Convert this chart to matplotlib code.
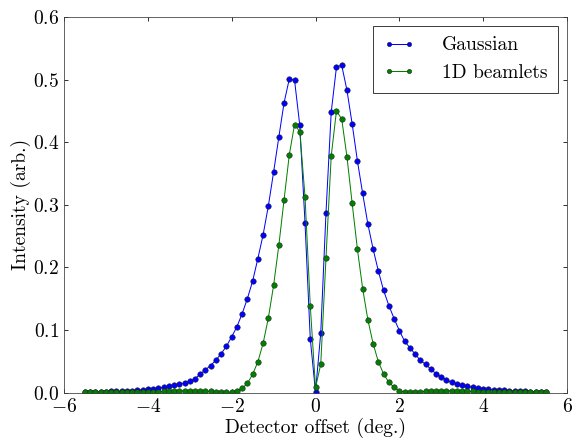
import numpy as np
import matplotlib
matplotlib.use("Agg")
import matplotlib.pyplot as plt

# detector offsets (deg.), one sample every 0.125 deg
offset = [-5.5, -5.375, -5.25, -5.125, -5.0, -4.875, -4.75, -4.625, -4.5, -4.375,
          -4.25, -4.125, -4.0, -3.875, -3.75, -3.625, -3.5, -3.375, -3.25, -3.125,
          -3.0, -2.875, -2.75, -2.625, -2.5, -2.375, -2.25, -2.125, -2.0, -1.875,
          -1.75, -1.625, -1.5, -1.375, -1.25, -1.125, -1.0, -0.875, -0.75, -0.625,
          -0.5, -0.375, -0.25, -0.125, 0.0, 0.125, 0.25, 0.375, 0.5, 0.625,
          0.75, 0.875, 1.0, 1.125, 1.25, 1.375, 1.5, 1.625, 1.75, 1.875,
          2.0, 2.125, 2.25, 2.375, 2.5, 2.625, 2.75, 2.875, 3.0, 3.125,
          3.25, 3.375, 3.5, 3.625, 3.75, 3.875, 4.0, 4.125, 4.25, 4.375,
          4.5, 4.625, 4.75, 4.875, 5.0, 5.125, 5.25, 5.375, 5.5]

gaussian = [0.0008, 0.0009, 0.0010, 0.0012, 0.0014, 0.0017, 0.0020, 0.0023, 0.0027, 0.0031,
            0.0037, 0.0044, 0.0052, 0.0060, 0.0070, 0.0081, 0.0097, 0.0113, 0.0131, 0.0155,
            0.0183, 0.0220, 0.0295, 0.0365, 0.0430, 0.0520, 0.0620, 0.0740, 0.0890, 0.1050,
            0.1260, 0.1500, 0.1780, 0.2140, 0.2520, 0.2980, 0.3520, 0.4080, 0.4630, 0.5010,
            0.4990, 0.4270, 0.2710, 0.0860, 0.0010, 0.0950, 0.2870, 0.4480, 0.5200, 0.5230,
            0.4830, 0.4290, 0.3700, 0.3180, 0.2690, 0.2290, 0.1940, 0.1630, 0.1390, 0.1180,
            0.0990, 0.0820, 0.0716, 0.0615, 0.0514, 0.0450, 0.0375, 0.0300, 0.0250, 0.0200,
            0.0163, 0.0136, 0.0115, 0.0098, 0.0084, 0.0072, 0.0062, 0.0053, 0.0045, 0.0039,
            0.0033, 0.0028, 0.0024, 0.0020, 0.0017, 0.0014, 0.0012, 0.0010, 0.0009]

beamlets = [0.0001, 0.0001, 0.0001, 0.0001, 0.0002, 0.0002, 0.0002, 0.0003, 0.0003, 0.0004,
            0.0005, 0.0006, 0.0007, 0.0009, 0.0012, 0.0016, 0.0020, 0.0024, 0.0027, 0.0029,
            0.0030, 0.0029, 0.0026, 0.0021, 0.0016, 0.0010, 0.0005, 0.0002, 0.0006, 0.0030,
            0.0067, 0.0146, 0.0290, 0.0490, 0.0785, 0.1190, 0.1710, 0.2350, 0.3080, 0.3800,
            0.4280, 0.4170, 0.3130, 0.1390, 0.0080, 0.0450, 0.2150, 0.3780, 0.4500, 0.4370,
            0.3770, 0.3020, 0.2290, 0.1660, 0.1160, 0.0780, 0.0490, 0.0296, 0.0163, 0.0083,
            0.0030, 0.0008, 0.0003, 0.0008, 0.0014, 0.0020, 0.0025, 0.0028, 0.0030, 0.0030,
            0.0029, 0.0027, 0.0024, 0.0020, 0.0016, 0.0012, 0.0009, 0.0006, 0.0004, 0.0003,
            0.0002, 0.0002, 0.0001, 0.0001, 0.0001, 0.0001, 0.0001, 0.0001, 0.0001]

# old-style LaTeX look
plt.rcParams['font.family'] = 'serif'
plt.rcParams['font.serif'] = ['cmr10']
plt.rcParams['mathtext.fontset'] = 'cm'
plt.rcParams['axes.formatter.use_mathtext'] = True
plt.rcParams['axes.unicode_minus'] = True

fs = 19.5

fig = plt.figure(figsize=(572 / 72, 443 / 72), dpi=72)
ax = fig.add_axes([64 / 572, (443 - 392.5) / 443, 503 / 572, (392.5 - 17) / 443])

ax.plot(offset, gaussian, 'o-', color='#0000ff', lw=1, ms=5.5, mec='#202020', mew=0.5, label='Gaussian')
ax.plot(offset, beamlets, 'o-', color='#008000', lw=1, ms=5.5, mec='#202020', mew=0.5, label='1D beamlets')

ax.set_xlim(-6, 6)
ax.set_ylim(0, 0.6)
ax.set_xticks([-6, -4, -2, 0, 2, 4, 6])
ax.set_yticks([0.0, 0.1, 0.2, 0.3, 0.4, 0.5, 0.6])
ax.tick_params(direction='in', top=True, right=True, length=4, labelsize=fs, pad=5)
for s in ax.spines.values():
    s.set_color('#404040')
ax.set_xlabel('Detector offset (deg.)', fontsize=fs, labelpad=2)
ax.set_ylabel('Intensity (arb.)', fontsize=fs, labelpad=2)

leg = ax.legend(loc='upper right', numpoints=2, fontsize=fs, fancybox=False, framealpha=1,
                handlelength=1.6, handletextpad=1.4, borderpad=0.55, borderaxespad=0.45,
                markerscale=0.8)
leg.get_frame().set_edgecolor('#404040')

fig.savefig('out.png', dpi=72)
